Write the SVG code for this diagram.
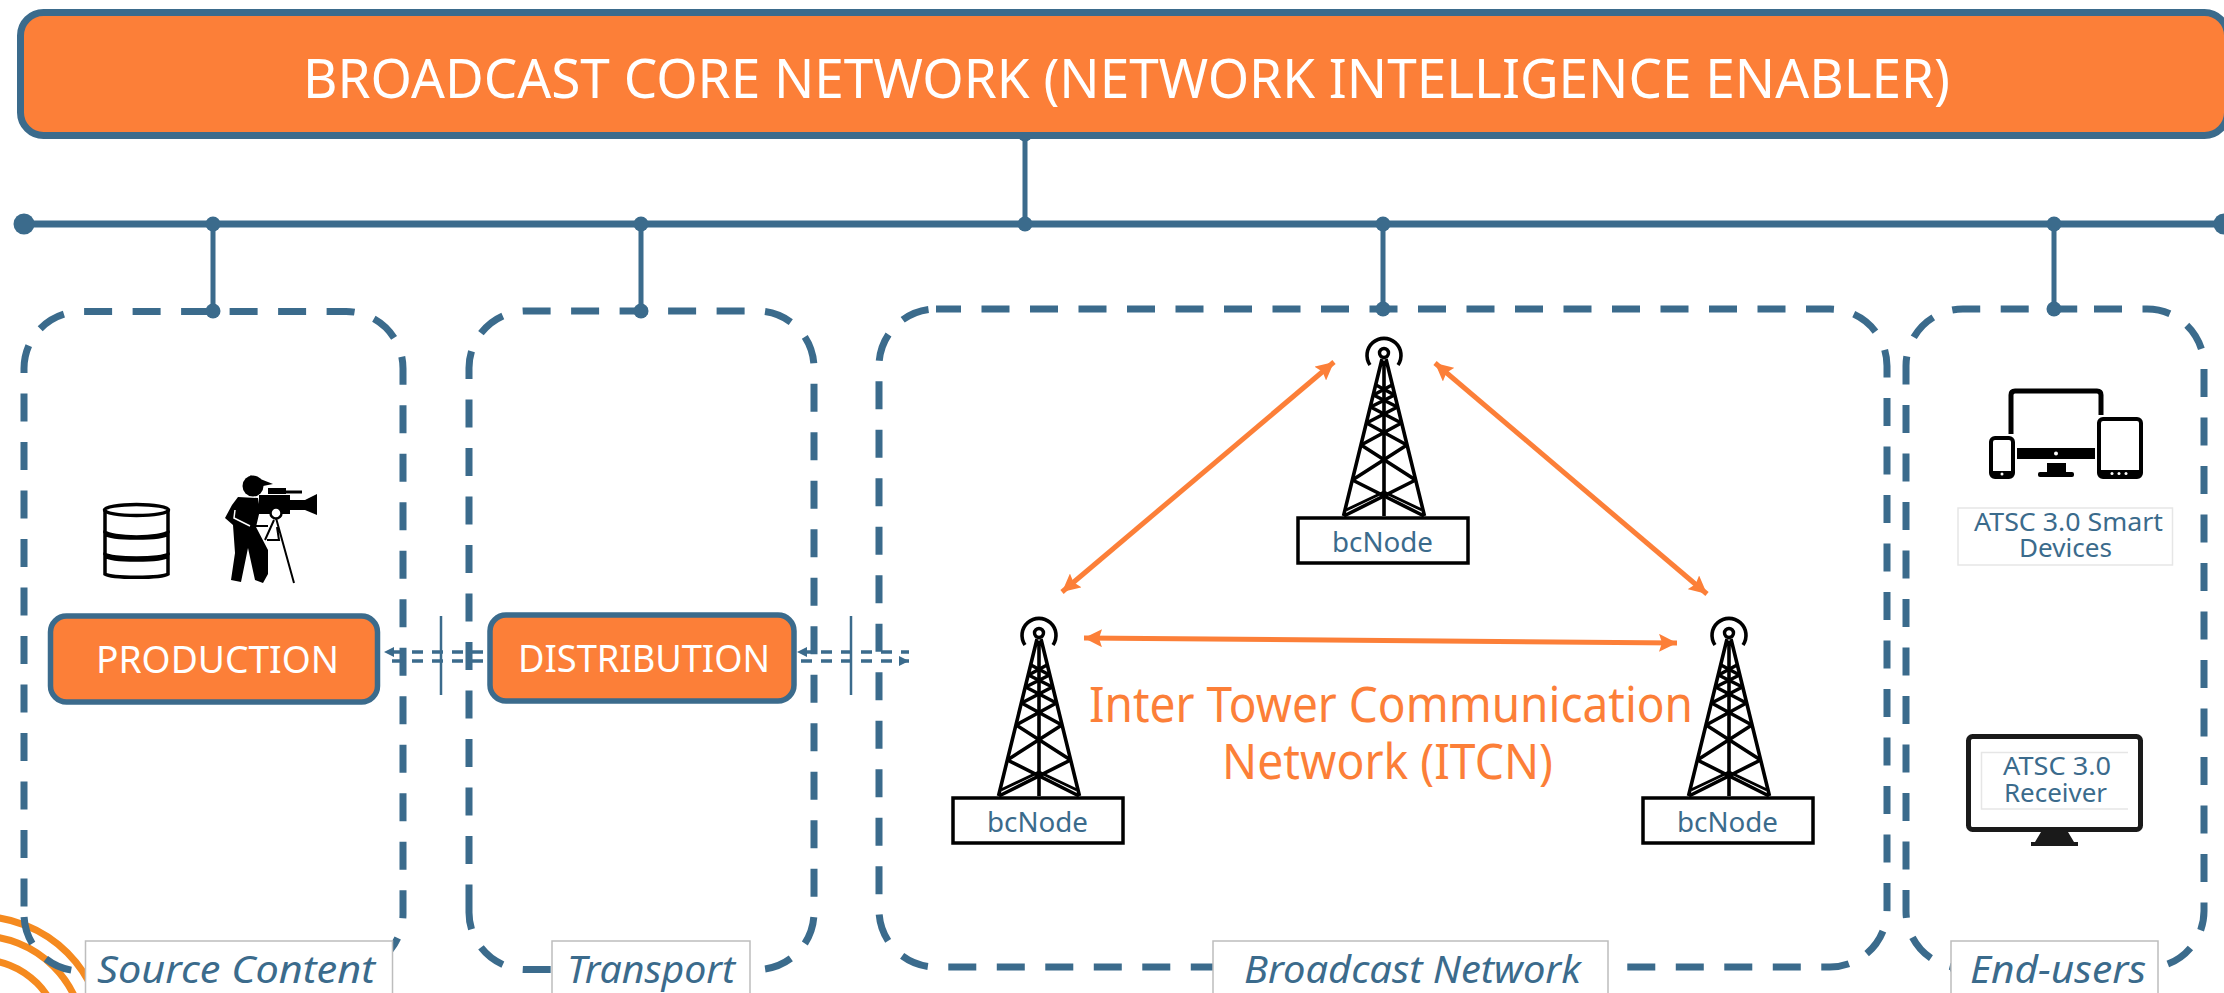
<svg xmlns="http://www.w3.org/2000/svg" width="2224" height="993" viewBox="0 0 2224 993">
<style>
.core{fill:#fc7f38;stroke:#3b6b8c}
.wt{fill:#fff;font-family:"Noto Sans","Open Sans",sans-serif;font-weight:400}
.zone{fill:none;stroke:#3b6b8c;stroke-width:7;stroke-dasharray:28 20.5}
.bus{fill:none;stroke:#3b6b8c;stroke-width:7}
.stub{fill:none;stroke:#3b6b8c;stroke-width:5}
.dot{fill:#3b6b8c}
.cap{fill:#fff;stroke:#bdbdbd;stroke-width:1.5}
.capt{fill:#3b6b8c;font-family:"Noto Sans","Open Sans",sans-serif;font-style:italic;font-size:39px;font-weight:400}
.lab{fill:#3b6b8c;font-family:"Noto Sans","Open Sans",sans-serif;font-size:25px;font-weight:400}
.lbox{fill:#fff;stroke:#e6e6e6;stroke-width:1.5}
.nbox{fill:#fff;stroke:#000;stroke-width:3.5}
.ntx{fill:#3b6b8c;font-family:"Noto Sans","Open Sans",sans-serif;font-size:27px;font-weight:400}
.oa{fill:none;stroke:#fc7f38;stroke-width:5;marker-start:url(#oh);marker-end:url(#oh)}
.da{fill:none;stroke:#3b6b8c;stroke-width:3.5;stroke-dasharray:11 9}
.tk{stroke:#3b6b8c;stroke-width:2.5}
.arcs{fill:none;stroke:#f58a1f;stroke-width:7}
.ot{fill:#fc7f38;font-family:"Noto Sans","Open Sans",sans-serif;font-size:49px;font-weight:400}
.tw{fill:none;stroke:#000;stroke-width:3.6}
.ic{fill:#000}
</style>
<defs>
<marker id="oh" markerUnits="userSpaceOnUse" markerWidth="20" markerHeight="18" refX="18" refY="9" orient="auto-start-reverse"><path d="M0 0L18 9L0 18L3 9Z" fill="#fc7f38"/></marker>
<marker id="bh" markerUnits="userSpaceOnUse" markerWidth="11" markerHeight="10" refX="10" refY="5" orient="auto-start-reverse"><path d="M0 0L10 5L0 10Z" fill="#3b6b8c"/></marker>
<g id="tower">
<circle cx="0" cy="0" r="4.5" fill="#fff" stroke="#000" stroke-width="3.4"/>
<path class="tw" d="M-14 12A17 17 0 1 1 14 12"/>
<path class="tw" d="M-2 6L-40.5 163M2 6L40.5 163M0 8V163"/>
<path class="tw" d="M-8 32L10.500 42M8 32L-10.500 42M-10.500 42L13.400 54M10.500 42L-13.400 54M-13.400 54L17.400 70M13.400 54L-17.400 70M-17.400 70L22.900 92M17.400 70L-22.900 92M-22.900 92L31.600 127M22.900 92L-31.600 127M-31.600 127L40 163M31.600 127L-40 163"/>
<path d="M-38 157L0 139M38 157L0 139" fill="none" stroke="#000" stroke-width="3"/>
</g>
</defs>
<rect width="2224" height="993" fill="#fff"/>
<g id="logo-arcs"><circle class="arcs" cx="-20" cy="1040" r="123.500"/><circle class="arcs" cx="-20" cy="1040" r="104"/><circle class="arcs" cx="-20" cy="1040" r="80.500"/></g>
<g id="connectors">
<path class="bus" d="M24 224H2224"/>
<path class="stub" d="M1025 134V224M213 224V311M641 224V311M1383 224V309M2054 224V309"/>
<g class="dot"><circle cx="24" cy="224" r="10.500"/><circle cx="2224" cy="224" r="10.500"/><circle cx="1025" cy="134" r="7.500"/><circle cx="213" cy="224" r="7.500"/><circle cx="641" cy="224" r="7.500"/><circle cx="1025" cy="224" r="7.500"/><circle cx="1383" cy="224" r="7.500"/><circle cx="2054" cy="224" r="7.500"/><circle cx="213" cy="311" r="7.500"/><circle cx="641" cy="311" r="7.500"/><circle cx="1383" cy="309" r="7.500"/><circle cx="2054" cy="309" r="7.500"/></g>
</g>
<g id="zones">
<path class="zone" d="M24 906.500V368.500A57 57 0 0 1 81 311.500H346A57 57 0 0 1 403 368.500V914A57 57 0 0 1 346 971H81A57 57 0 0 1 24 914Z"/>
<path class="zone" d="M469 912.500V368A57 57 0 0 1 526 311H757A57 57 0 0 1 814 368V912.500A57 57 0 0 1 757 969.500H526A57 57 0 0 1 469 912.500Z"/>
<rect class="zone" style="stroke-dashoffset:3" x="879" y="309" width="1008" height="658" rx="57"/>
<path class="zone" style="stroke-dashoffset:1.5" d="M1950 968H1963A57 57 0 0 1 1906 911V366A57 57 0 0 1 1963 309H2094"/>
<path class="zone" d="M2094 309H2147A57 57 0 0 1 2204 366V911A57 57 0 0 1 2147 968H2100"/>
</g>
<g id="dashed-links">
<path class="da" style="stroke-dashoffset:12" d="M384 652H487M384 661H487" marker-start="url(#bh)"/>
<path class="da" style="stroke-dashoffset:16" d="M797 652H909M797 661H909" marker-start="url(#bh)" marker-end="url(#bh)"/>
<path class="tk" d="M441 616V695M851 616V695"/>
</g>
<g id="itcn-links">
<path class="oa" d="M1062 592L1334 362"/>
<path class="oa" d="M1435 363L1707 594"/>
<path class="oa" d="M1084 638L1677 643"/>
</g>
<g id="core"><rect class="core" stroke-width="7" x="20.500" y="12.500" width="2207" height="123" rx="23"/>
<text class="wt" x="303" y="98" font-size="55" textLength="1647" lengthAdjust="spacingAndGlyphs">BROADCAST CORE NETWORK (NETWORK INTELLIGENCE ENABLER)</text></g>
<g id="production"><rect class="core" stroke-width="5.500" x="50.500" y="616" width="327" height="86" rx="16"/>
<text class="wt" x="96" y="673" font-size="38" textLength="243" lengthAdjust="spacingAndGlyphs">PRODUCTION</text></g>
<g id="distribution"><rect class="core" stroke-width="5.500" x="490" y="615" width="304" height="86" rx="16"/>
<text class="wt" x="518" y="672" font-size="38" textLength="252" lengthAdjust="spacingAndGlyphs">DISTRIBUTION</text></g>
<g id="database" fill="#fff" stroke="#000" stroke-width="3.500">
<path d="M105 510V532A32 6 0 0 0 168 532V510"/><ellipse cx="136.500" cy="510" rx="32" ry="5.500"/>
<path d="M105 534V554A32 5 0 0 0 168 554V534A32 5 0 0 1 105 534Z"/>
<path d="M105 556V574A32 4 0 0 0 168 574V556A32 5 0 0 1 105 556Z"/>
</g>
<g id="cameraman">
<g class="ic">
<circle cx="253" cy="486" r="10.500"/>
<path d="M250 475L273 484L258 487Z"/>
<path d="M238 497L258 498L260 510L256 527L268 550L268 574L263 583L255 580L248 548L241 582L231 580L235 553L233 525L225 518L232 505Z"/>
<rect x="259" y="495" width="31" height="19"/>
<rect x="290" y="500" width="15" height="10"/>
<path d="M305 500L317 494V515L305 510Z"/>
<rect x="268" y="488" width="18" height="6"/>
<rect x="286" y="490.500" width="16" height="3"/>
</g>
<circle cx="276" cy="513" r="5.500" fill="#fff" stroke="#000" stroke-width="2.500"/>
<path d="M276 518L294 583M274 520L265 540M267 540H279L277 527M253 526L268 526" fill="none" stroke="#000" stroke-width="2"/>
<path d="M235 510L234 518L250 526" fill="none" stroke="#fff" stroke-width="1.500"/>
</g>
<g id="tower-top"><use href="#tower" x="1384" y="353"/><rect class="nbox" x="1298" y="518" width="170" height="45"/><text class="ntx" x="1332" y="552" textLength="101" lengthAdjust="spacingAndGlyphs">bcNode</text></g>
<g id="tower-left"><use href="#tower" x="1039" y="633"/><rect class="nbox" x="953" y="798" width="170" height="45"/><text class="ntx" x="987" y="832" textLength="101" lengthAdjust="spacingAndGlyphs">bcNode</text></g>
<g id="tower-right"><use href="#tower" x="1729" y="633"/><rect class="nbox" x="1643" y="798" width="170" height="45"/><text class="ntx" x="1677" y="832" textLength="101" lengthAdjust="spacingAndGlyphs">bcNode</text></g>
<g id="itcn-label">
<text class="ot" x="1089" y="722" textLength="604" lengthAdjust="spacingAndGlyphs">Inter Tower Communication</text>
<text class="ot" x="1222" y="779" textLength="331" lengthAdjust="spacingAndGlyphs">Network (ITCN)</text>
</g>
<g id="smart-devices">
<path d="M2011 434V395Q2011 391 2015 391H2097Q2101 391 2101 395V415" fill="none" stroke="#000" stroke-width="5"/>
<g class="ic"><rect x="2017" y="448" width="78" height="11"/><rect x="2047" y="463" width="19" height="10"/><rect x="2038" y="472" width="36" height="5" rx="2"/></g>
<rect x="1991" y="438" width="22" height="39" rx="4" fill="#fff" stroke="#000" stroke-width="4"/>
<rect x="2099" y="419" width="42" height="58" rx="4" fill="#fff" stroke="#000" stroke-width="4"/>
<g class="ic"><rect x="1991" y="471" width="22" height="6"/><rect x="2099" y="470" width="42" height="7"/></g>
<g fill="#fff"><circle cx="2056" cy="453.500" r="2"/><circle cx="2002" cy="474" r="1.500"/><circle cx="2112" cy="473.500" r="1.500"/><circle cx="2119" cy="473.500" r="1.500"/><circle cx="2126" cy="473.500" r="1.500"/></g>
<rect class="lbox" x="1958" y="508" width="214.500" height="57"/>
<text class="lab" x="1974" y="531" textLength="189" lengthAdjust="spacingAndGlyphs">ATSC 3.0 Smart</text>
<text class="lab" x="2019" y="557" textLength="93" lengthAdjust="spacingAndGlyphs">Devices</text>
</g>
<g id="receiver">
<rect x="1968.500" y="736.500" width="172" height="93" rx="4" fill="#fff" stroke="#1a1a1a" stroke-width="5"/>
<path d="M2041 832H2068L2074 842H2078V846H2031V842H2035Z" fill="#1a1a1a"/>
<path d="M2128 752.500H1981.500V809H2128" fill="none" stroke="#e6e6e6" stroke-width="1.500"/>
<text class="lab" x="2003" y="775" textLength="108" lengthAdjust="spacingAndGlyphs">ATSC 3.0</text>
<text class="lab" x="2004" y="802" textLength="103" lengthAdjust="spacingAndGlyphs">Receiver</text>
</g>
<g id="cap-source"><rect class="cap" x="85.500" y="941" width="307" height="70"/><text class="capt" x="97" y="983" textLength="278" lengthAdjust="spacingAndGlyphs">Source Content</text></g>
<g id="cap-transport"><rect class="cap" x="552" y="941" width="198" height="70"/><text class="capt" x="567" y="983" textLength="168" lengthAdjust="spacingAndGlyphs">Transport</text></g>
<g id="cap-broadcast"><rect class="cap" x="1213" y="941" width="395" height="70"/><text class="capt" x="1244" y="983" textLength="337" lengthAdjust="spacingAndGlyphs">Broadcast Network</text></g>
<g id="cap-endusers"><rect class="cap" x="1951" y="941" width="207" height="70"/><text class="capt" x="1970" y="983" textLength="176" lengthAdjust="spacingAndGlyphs">End-users</text></g>
</svg>
